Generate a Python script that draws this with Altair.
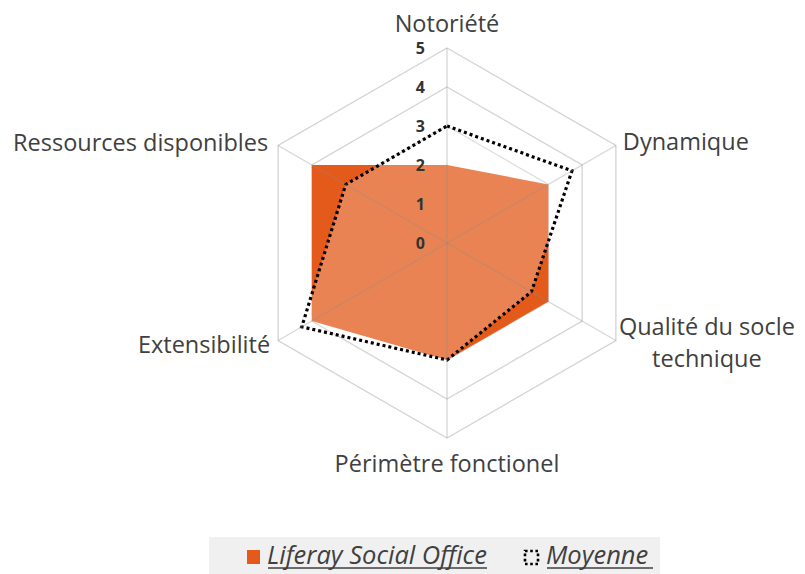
import altair as alt
import pandas as pd

# ---------------- data ----------------
categories = [
    "Notoriété",
    "Dynamique",
    "Qualité du socle technique",
    "Périmètre fonctionel",
    "Extensibilité",
    "Ressources disponibles",
]
series_names = ["Liferay Social Office", "Moyenne"]
liferay_values = [2, 3, 3, 3, 4, 4]
moyenne_values = [3, 3.7, 2.5, 3, 4.3, 3]
ring_levels = [1, 2, 3, 4, 5]
tick_labels = ["0", "1", "2", "3", "4", "5"]

n = len(categories)
max_level = max(ring_levels)

series_df = pd.DataFrame(
    [
        {"series": s, "idx": i, "category": c, "value": v}
        for s, vals in zip(series_names, [liferay_values, moyenne_values])
        for i, (c, v) in enumerate(zip(categories, vals))
    ]
)
ring_df = pd.DataFrame([{"level": L, "idx": i} for L in ring_levels for i in range(n)])
spoke_df = pd.DataFrame({"idx": list(range(n)), "category": categories, "value": [max_level] * n})
tick_df = pd.DataFrame({"label": tick_labels, "value": [float(t) for t in tick_labels]})

# ---------------- style ----------------
FONT = "Open Sans"
TEXT = "#404040"
ORANGE = "#E35A1A"
GRID = "#D4D4D4"
LABEL_SIZE = 23.5

ANG = f"PI/2 - datum.idx*2*PI/{n}"

xs = alt.Scale(domain=[-5, 5], range=[244, 634], nice=False, zero=False)
ys = alt.Scale(domain=[-5, 5], range=[430, 40], nice=False, zero=False)


def polar(base, field):
    return base.transform_calculate(
        ang=ANG,
        px=f"datum.{field}*cos(datum.ang)",
        py=f"datum.{field}*sin(datum.ang)",
    )


X = alt.X("px:Q", scale=xs, axis=None)
Y = alt.Y("py:Q", scale=ys, axis=None)

rings = polar(alt.Chart(ring_df), "level").mark_line(
    interpolate="linear-closed", stroke=GRID, strokeWidth=1.3
).encode(x=X, y=Y, detail="level:N", order="idx:Q")

liferay = polar(alt.Chart(series_df).transform_filter(f"datum.series == '{series_names[0]}'"), "value").mark_line(
    interpolate="linear-closed", fill=ORANGE, fillOpacity=1, strokeWidth=0, strokeOpacity=0
).encode(x=X, y=Y, order="idx:Q")

moyenne = polar(alt.Chart(series_df).transform_filter(f"datum.series == '{series_names[1]}'"), "value").mark_line(
    interpolate="linear-closed", fill="white", fillOpacity=0.25, stroke="black",
    strokeWidth=3.2, strokeDash=[3, 3], strokeCap="butt"
).encode(x=X, y=Y, order="idx:Q")

spoke_chart = alt.Chart(spoke_df).transform_calculate(
    ang=ANG,
    px="datum.value*cos(datum.ang)",
    py="datum.value*sin(datum.ang)",
    zx="0",
    zy="0",
).mark_rule(stroke="#8C8C8C", strokeOpacity=0.35, strokeWidth=1.3).encode(
    x=alt.X("zx:Q", scale=xs, axis=None),
    y=alt.Y("zy:Q", scale=ys, axis=None),
    x2="px:Q",
    y2="py:Q",
)

ticks = alt.Chart(tick_df).transform_calculate(zx="0").mark_text(
    align="right", baseline="middle", dx=-22, dy=1, font=FONT, fontSize=16,
    fontWeight="bold", color="#333333"
).encode(x=alt.X("zx:Q", scale=xs, axis=None), y=alt.Y("value:Q", scale=ys, axis=None), text="label:N")

label_styles = [
    dict(align="center", baseline="middle", dx=0, dy=-23),
    dict(align="left", baseline="middle", dx=7, dy=-3),
    dict(align="center", baseline="middle", dx=91, dy=-13, lineBreak="|", lineHeight=32),
    dict(align="center", baseline="middle", dx=0, dy=27),
    dict(align="right", baseline="middle", dx=-8, dy=5),
    dict(align="right", baseline="middle", dx=-10, dy=-2),
]
label_layers = []
for i, st in enumerate(label_styles):
    lab = (
        alt.Chart(spoke_df)
        .transform_filter(f"datum.idx == {i}")
        .transform_calculate(
            ang=ANG,
            px="datum.value*cos(datum.ang)",
            py="datum.value*sin(datum.ang)",
            lab="replace(datum.category, 'socle ', 'socle|')",
        )
        .mark_text(font=FONT, fontSize=LABEL_SIZE, color=TEXT, **st)
        .encode(x=X, y=Y, text="lab:N")
    )
    label_layers.append(lab)

# ---------------- legend (drawn) ----------------
one = pd.DataFrame({"a": [0]})
leg_bg = alt.Chart(one).mark_rect(fill="#F0F0F0").encode(
    x=alt.value(201), x2=alt.value(652), y=alt.value(529), y2=alt.value(572)
)
leg_sq1 = alt.Chart(one).mark_rect(fill=ORANGE).encode(
    x=alt.value(239), x2=alt.value(252), y=alt.value(542), y2=alt.value(556)
)
leg_sq2 = alt.Chart(one).mark_rect(
    fill="transparent", stroke="black", strokeWidth=2.6, strokeDash=[2.6, 2.6]
).encode(x=alt.value(517), x2=alt.value(530), y=alt.value(543), y2=alt.value(556))
leg_t1 = alt.Chart(one).mark_text(
    align="left", baseline="middle", font=FONT, fontSize=25.5, fontStyle="italic", color=TEXT
).encode(x=alt.value(259), y=alt.value(548), text=alt.value(series_names[0]))
leg_t2 = alt.Chart(one).mark_text(
    align="left", baseline="middle", font=FONT, fontSize=25.5, fontStyle="italic", color=TEXT
).encode(x=alt.value(538), y=alt.value(548), text=alt.value(series_names[1]))
leg_u1 = alt.Chart(one).mark_rule(stroke=TEXT, strokeWidth=1.4).encode(
    x=alt.value(260), x2=alt.value(479), y=alt.value(560)
)
leg_u2 = alt.Chart(one).mark_rule(stroke=TEXT, strokeWidth=1.4).encode(
    x=alt.value(539), x2=alt.value(645), y=alt.value(560)
)

chart = alt.layer(
    rings, liferay, moyenne, spoke_chart, ticks, *label_layers,
    leg_bg, leg_sq1, leg_sq2, leg_t1, leg_t2, leg_u1, leg_u2,
).properties(
    width=789, height=566, autosize=alt.AutoSizeParams(type="none"), padding=0,
    background="white",
).configure_view(stroke=None, strokeWidth=0)

chart.save("out.html", embed_options={"renderer": "svg", "actions": False})
